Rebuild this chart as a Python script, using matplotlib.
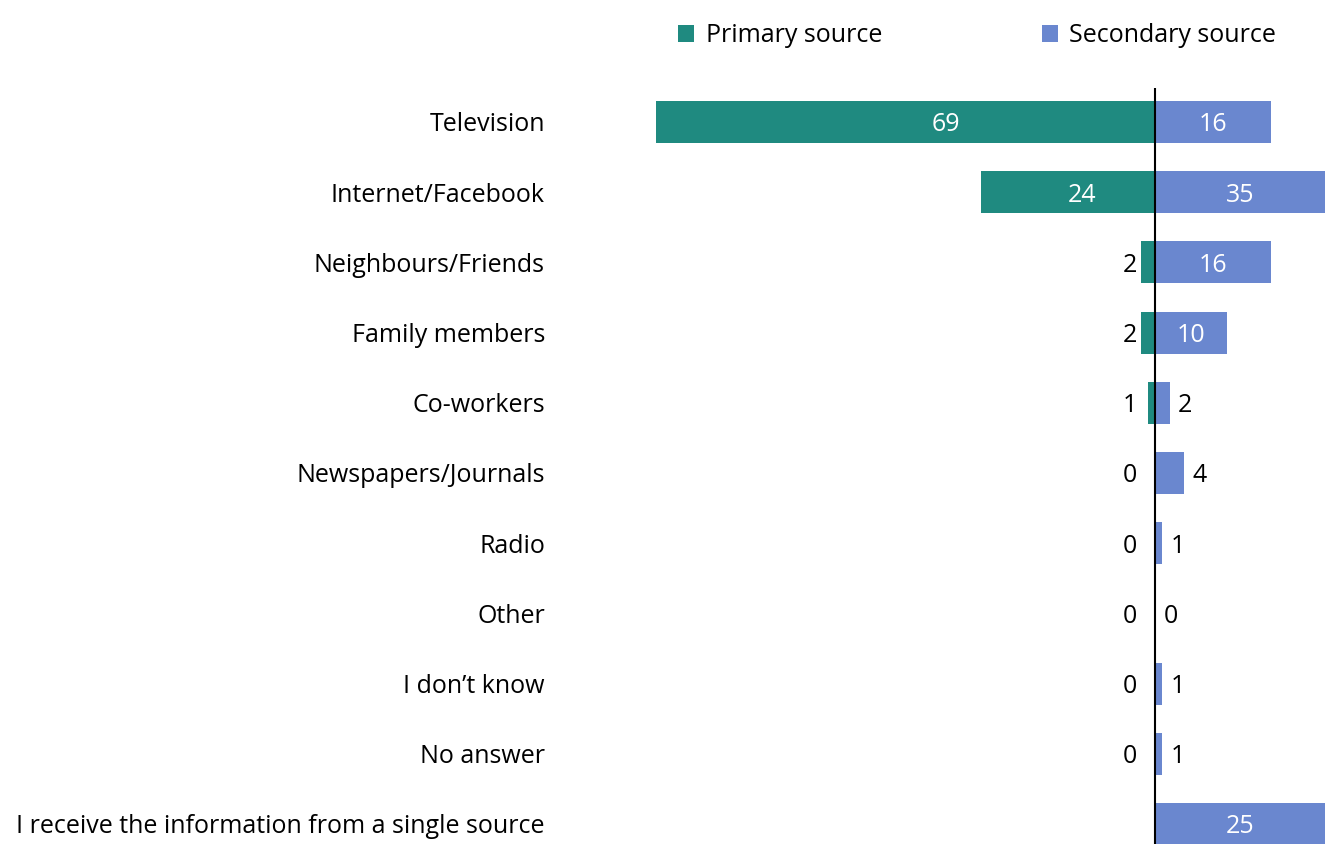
import numpy as np
import matplotlib
matplotlib.use("Agg")
import matplotlib.pyplot as plt

plt.rcParams['font.family'] = ['Open Sans', 'DejaVu Sans']

categories = ["Television", "Internet/Facebook", "Neighbours/Friends", "Family members",
              "Co-workers", "Newspapers/Journals", "Radio", "Other", "I don\u2019t know",
              "No answer", "I receive the information from a single source"]
primary = [69, 24, 2, 2, 1, 0, 0, 0, 0, 0, np.nan]
secondary = [16, 35, 16, 10, 2, 4, 1, 0, 1, 1, 25]

c_primary = '#1f8a80'
c_secondary = '#6a87cf'
fs = 18

fig = plt.figure(figsize=(13.25, 8.44), dpi=100)
ax = fig.add_axes([656 / 1325, 0, 669 / 1325, 756 / 844])

y = np.arange(len(categories))
prim = np.array(primary, dtype=float)
sec = np.array(secondary, dtype=float)

ax.barh(y, -np.nan_to_num(prim), height=0.6, color=c_primary, label='Primary source')
ax.barh(y, sec, height=0.6, color=c_secondary, label='Secondary source')
ax.axvline(0, color='black', lw=1.5)

xmin, xmax = -69, 23.5
ax.set_xlim(xmin, xmax)
ax.set_ylim(10.285, -0.484)

# value labels: white inside big bars, black outside small ones
for i in range(len(categories)):
    p = prim[i]
    if not np.isnan(p):
        if p >= 10:
            ax.text(-p * 0.42, i, f"{p:.0f}", color='white', fontsize=fs,
                    ha='center', va='center_baseline')
        else:
            ax.annotate(f"{p:.0f}", xy=(0, i), xytext=(-13, 0), textcoords='offset points',
                        ha='right', va='center_baseline', fontsize=fs, color='black')
    s = sec[i]
    if s >= 10:
        ax.text(min(s, xmax) / 2, i, f"{s:.0f}", color='white', fontsize=fs,
                ha='center', va='center_baseline')
    else:
        ax.annotate(f"{s:.0f}", xy=(s, i), xytext=(6, 0), textcoords='offset points',
                    ha='left', va='center_baseline', fontsize=fs, color='black')

ax.set_yticks(y)
ax.set_yticklabels(categories, fontsize=fs)
ax.tick_params(axis='y', length=0, pad=80)
ax.set_xticks([])
for sp in ax.spines.values():
    sp.set_visible(False)

fig.legend(loc='upper left', bbox_to_anchor=(668 / 1325, 1 - 13 / 844), ncol=2,
           frameon=False, fontsize=fs, handlelength=0.65, handleheight=0.65,
           handletextpad=0.45, columnspacing=6.4, borderaxespad=0)

fig.savefig('out.png', dpi=100)
